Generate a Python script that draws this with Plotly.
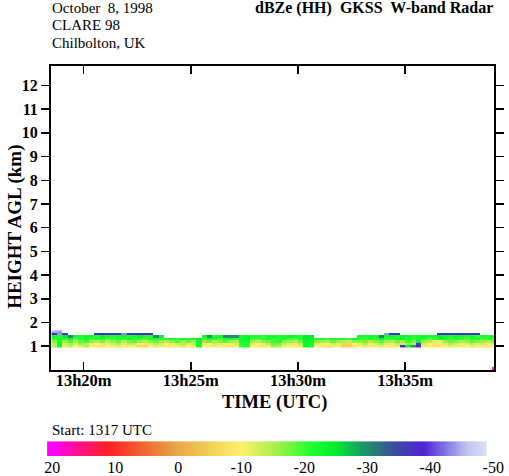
import numpy as np
import plotly.graph_objects as go

N = None
FONT = "Liberation Serif, Times New Roman, serif"

# ---- data: radar reflectivity (dBZe), time in minutes after 13:00 UTC ----
time_start = 18.5
time_step = 0.25
n_cols = 83
height_edges = [0.93, 1.035, 1.14, 1.245, 1.35, 1.455, 1.56, 1.665]  # km

row_0 = ([-15, -23, -12, -14, -10, -12, -15, -10, -9, -8, -10, -11, -12, -9, -10, -11, -7, -6, -10, -12, -11]
         + [-9, -10, -11, -13, -10, -12, -22]
         + [-10, -9, -11, -10, -8, -9, -11, -20, -21, -10, -9, -8, -11, -16, -15, -11, -10, -9, -12, -23, -22]
         + [-10, -9, -8, -11, -9, -5, -6, -9]
         + [-10, -12, -9, -11, -13, -10, -9, -12, -38, -25, -30, -38, -11, -9, -8, -9, -10, -12, -11, -9, -10, -12, -10, -11, -9, -10])
row_1 = ([-14, -22, -13, -15, -12, -16, -14, -11, -10, -12, -11, -13, -15, -12, -14, -13, -9, -8, -12, -14, -13]
         + [-10, -11, -13, -15, -12, -14, -22]
         + [-11, -10, -13, -12, -10, -11, -13, -21, -21, -12, -10, -11, -14, -18, -17, -13, -12, -11, -14, -23, -22]
         + [-12, -11, -10, -13, -11, -6, -6, -10]
         + [-12, -14, -11, -13, -15, -12, -11, -14, -13, -16, -14, -37, -13, -10, -9, -9, -12, -14, -13, -11, -12, -14, -12, -13, -11, -12])
row_2 = ([-17, -21, -16, -19, -15, -18, -20, -16, -15, -17, -14, -16, -18, -15, -17, -19, -16, -14, -17, -18, -16]
         + [-15, -17, -19, -16, -18, -15, -23]
         + [-16, -18, -15, -17, -19, -16, -15, -22, -22, -16, -14, -17, -18, -20, -21, -17, -16, -15, -18, -24, -23]
         + [-17, -16, -15, -18, -16, -15, -14, -17]
         + [-16, -18, -15, -17, -19, -16, -15, -18, -16, -20, -17, -22, -16, -15, -12, -11, -16, -18, -17, -15, -16, -18, -17, -16, -15, -17])
row_3 = ([-20, -23, -21, -22, -19, -21, -22, -20, -21, -22, -19, -20, -22, -21, -23, -20, -21, -19, -22, -21, -20]
         + [-21, -22, -20, -23, -21, -22, -24]
         + [-20, -21, -22, -19, -21, -22, -20, -23, -24, -20, -19, -21, -22, -20, -21, -22, -20, -19, -21, -25, -24]
         + [-21, -22, -20, -21, -22, -21, -20, -22]
         + [-21, -20, -22, -21, -23, -20, -21, -22, -24, -21, -20, -22, -21, -19, -20, -22, -21, -20, -22, -21, -19, -21, -22, -20, -21, -19])
row_4 = ([-22, -21, -24, -30, -22, -21, -23, -22, -21, -24, -22, -21, -22, -23, -21, -22, -24, -22, -21, -30, -23]
         + [N] * 7
         + [-22, -30, -21, -23, -30, -30, -30, -22, -24, -21, -22, -20, -22, -23, -21, -22, -24, -22, -21, -25, -25]
         + [N] * 8
         + [-22, -21, -23, -22, -31, -22, -23, -21, -24, -22, -21, -22, -23, -22, -21, -24, -22, -21, -23, -22, -21, -22, -20, -22, -21, -22])
row_5 = ([-38, -44, -37] + [N] * 5 + [-38] * 5 + [-43] + [-38] * 5 + [N] * 43
         + [-44, -38, -38] + [N] * 7 + [-38] * 8 + [N] * 3)
row_6 = [-45, -44] + [N] * 81

# isolated cell at the lower right corner
corner_time_edges = [39.05, 39.25]
corner_height_edges = [0.0, 0.12]
corner_value = [[20]]

# ---- axis / label text ----
x_tick_vals = [20, 25, 30, 35]
x_tick_text = ["13h20m", "13h25m", "13h30m", "13h35m"]
y_tick_vals = list(range(1, 13))
cb_tick_vals = [20, 10, 0, -10, -20, -30, -40, -50]
cb_tick_text = ["20", "10", "0", "-10", "-20", "-30", "-40", "-50"]

# colour table (dBZe -> colour), zmin -50 .. zmax 20
zmin, zmax = -50, 20
cmap_pts = [(-50, "#e2e8f8"), (-46, "#c0c6f0"), (-42, "#7a6ae0"), (-39, "#5222d8"),
            (-34, "#3a5098"), (-29, "#18a060"), (-25, "#00ee30"), (-21, "#22ff30"),
            (-16, "#9cf048"), (-10, "#fff070"), (-4, "#f0c850"), (0, "#e8a848"),
            (6, "#f06030"), (11, "#ff2020"), (16, "#ff1090"), (20, "#ff00ff")]
colorscale = [[(v - zmin) / (zmax - zmin), c] for v, c in cmap_pts]

time_edges = [time_start + time_step * k for k in range(n_cols + 1)]
z = [row_0, row_1, row_2, row_3, row_4, row_5, row_6]

W, H = 509, 476
def px(x):
    return x / W
def py(y):
    return 1 - y / H

fig = go.Figure()
fig.add_trace(go.Heatmap(x=time_edges, y=height_edges, z=z, zmin=zmin, zmax=zmax,
                         colorscale=colorscale, showscale=False, hoverinfo="skip",
                         xaxis="x", yaxis="y"))
fig.add_trace(go.Heatmap(x=corner_time_edges, y=corner_height_edges, z=corner_value,
                         zmin=zmin, zmax=zmax, colorscale=colorscale, showscale=False,
                         hoverinfo="skip", xaxis="x", yaxis="y"))

cb_x = np.linspace(20.8, -48.9, 400)
fig.add_trace(go.Heatmap(x=cb_x, y=[0], z=[cb_x], zmin=zmin, zmax=zmax,
                         colorscale=colorscale, showscale=False, hoverinfo="skip",
                         xaxis="x2", yaxis="y2"))

axis_common = dict(showgrid=False, zeroline=False, showline=True, linecolor="black",
                   linewidth=2, mirror="ticks", tickcolor="black", tickwidth=1.5)

fig.update_layout(
    width=W, height=H, autosize=False, margin=dict(l=0, r=0, t=0, b=0),
    paper_bgcolor="white", plot_bgcolor="white", showlegend=False,
    font=dict(family=FONT, color="black"),
    xaxis=dict(domain=[px(49), px(501.3)], range=[18.48, 39.17], anchor="y",
               tickvals=x_tick_vals, ticktext=x_tick_text, ticks="inside", ticklen=8,
               ticklabelstandoff=-6,
               tickfont=dict(family=FONT, size=16.5, weight="bold", color="black"),
               **axis_common),
    yaxis=dict(domain=[py(372.3), py(66.7)], range=[0, 12.81], anchor="x",
               tickvals=y_tick_vals, ticks="outside", ticklen=8,
               tickfont=dict(family=FONT, size=16, weight="bold", color="black"),
               **axis_common),
    xaxis2=dict(domain=[px(45), px(503.3)], range=[20.8, -50.5], anchor="y2",
                showgrid=False, zeroline=False, showline=False, ticks="",
                tickvals=cb_tick_vals, ticktext=cb_tick_text,
                tickfont=dict(family=FONT, size=16, color="black")),
    yaxis2=dict(domain=[py(459), py(444)], range=[-0.5, 0.5], anchor="x2",
                showgrid=False, zeroline=False, showline=False, showticklabels=False, ticks=""),
)

ann = [
    dict(text="October  8, 1998", x=px(48), y=py(8), xanchor="left", yanchor="middle",
         font=dict(size=15)),
    dict(text="CLARE 98", x=px(48), y=py(25.5), xanchor="left", yanchor="middle",
         font=dict(size=15)),
    dict(text="Chilbolton, UK", x=px(48), y=py(43), xanchor="left", yanchor="middle",
         font=dict(size=15)),
    dict(text="dBZe (HH)  GKSS  W-band Radar", x=px(502), y=py(8), xanchor="right",
         yanchor="middle", font=dict(size=16, weight="bold")),
    dict(text="HEIGHT AGL (km)", x=px(11.5), y=py(228), xanchor="center", yanchor="middle",
         textangle=-90, font=dict(size=19, weight="bold")),
    dict(text="TIME (UTC)", x=px(277), y=py(405), xanchor="center", yanchor="middle",
         font=dict(size=18.5, weight="bold")),
    dict(text="Start: 1317 UTC", x=px(48), y=py(433), xanchor="left", yanchor="middle",
         font=dict(size=15)),
]
for a in ann:
    a.update(xref="paper", yref="paper", showarrow=False)
    a["font"].update(family=FONT, color="black")
fig.update_layout(annotations=ann)

page_js = (
    "document.documentElement.style.margin='0';document.body.style.margin='0';"
    "document.body.style.padding='0';document.body.style.overflow='hidden';"
    "document.documentElement.style.overflow='hidden';"
)
fig.write_html("out.html",
               config={"responsive": False, "displayModeBar": False, "staticPlot": True},
               post_script=page_js)
